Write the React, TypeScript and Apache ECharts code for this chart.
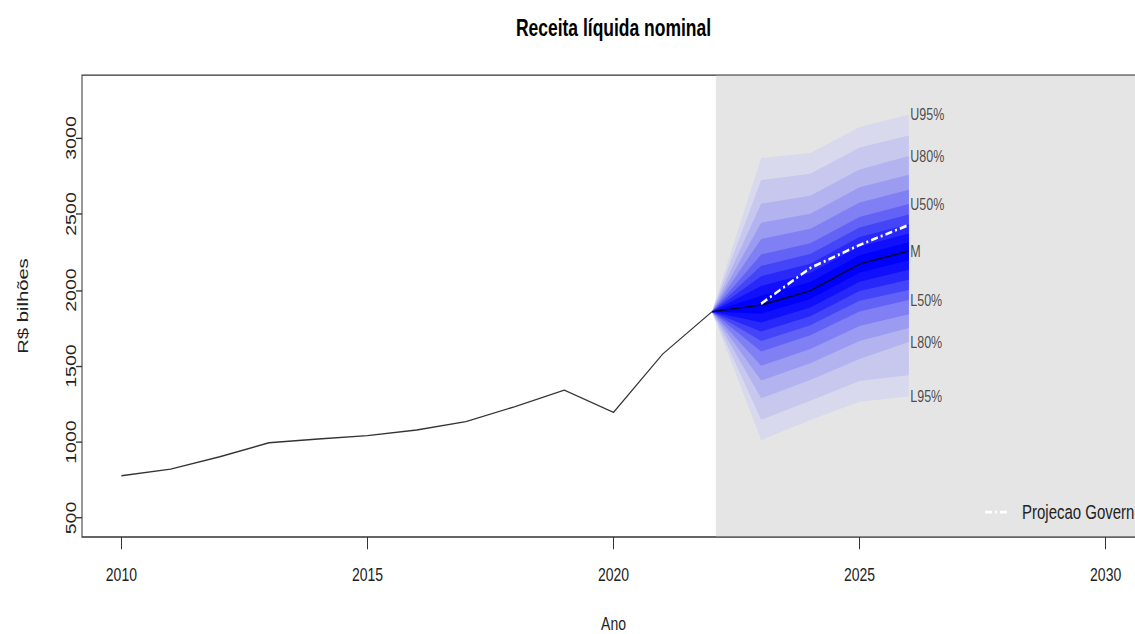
import { useEffect, useRef } from "react";
import * as echarts from "echarts";

// ---- data ----
const histYears = [2010, 2011, 2012, 2013, 2014, 2015, 2016, 2017, 2018, 2019, 2020, 2021, 2022];
const histValues = [778, 822, 903, 995, 1020, 1042, 1079, 1134, 1233, 1342, 1195, 1579, 1857];

const fanYears = [2022, 2023, 2024, 2025, 2026];
const q975 = [1857, 2868, 2901, 3072, 3155];
const q95 = [1857, 2723, 2765, 2937, 3017];
const q90 = [1857, 2568, 2620, 2793, 2882];
const q85 = [1857, 2443, 2502, 2676, 2758];
const q80 = [1857, 2336, 2403, 2576, 2659];
const q75 = [1857, 2234, 2307, 2481, 2566];
const q70 = [1857, 2159, 2237, 2412, 2496];
const q65 = [1857, 2091, 2173, 2348, 2432];
const q60 = [1857, 2026, 2112, 2287, 2372];
const q55 = [1857, 1963, 2053, 2229, 2314];
const q50 = [1857, 1901, 1995, 2171, 2257];
const q45 = [1857, 1844, 1941, 2113, 2195];
const q40 = [1857, 1786, 1885, 2054, 2133];
const q35 = [1857, 1727, 1828, 1993, 2068];
const q30 = [1857, 1664, 1768, 1929, 2000];
const q25 = [1857, 1596, 1703, 1859, 1934];
const q20 = [1857, 1501, 1612, 1763, 1840];
const q15 = [1857, 1404, 1519, 1664, 1750];
const q10 = [1857, 1288, 1408, 1546, 1658];
const q05 = [1857, 1146, 1272, 1401, 1439];
const q025 = [1857, 1013, 1145, 1265, 1300];

const govYears = [2023, 2024, 2025, 2026];
const govValues = [1910, 2145, 2296, 2428];

const xTicks = [2010, 2015, 2020, 2025, 2030];
const yTicks = [500, 1000, 1500, 2000, 2500, 3000];
const fanLabels = ["U95%", "U80%", "U50%", "M", "L50%", "L80%", "L95%"];
const forecastStart = 2022.08;

// ---- layout / style ----
const SCALE = 1.35;
const W = 1160;
const H = 480;
const FONT = '"Liberation Sans", Arial, Helvetica, sans-serif';
const bandColors = [
  "#d9d9ee", "#c8c8ef", "#b3b3f0", "#9b9bf2", "#8080f4",
  "#6262f6", "#4444f8", "#2828fb", "#1010fd", "#0000ff",
];

export default function App() {
  const ref = useRef<HTMLDivElement>(null);

  useEffect(() => {
    const chart = echarts.init(ref.current!, null, { renderer: "svg", width: W, height: H });
    const lowers = [q025, q05, q10, q15, q20, q25, q30, q35, q40, q45];
    const uppers = [q975, q95, q90, q85, q80, q75, q70, q65, q60, q55];
    const labelSource = [q975, q90, q75, q50, q25, q10, q025];
    const lastYear = fanYears[fanYears.length - 1];

    chart.setOption({
      animation: false,
      backgroundColor: "#ffffff",
      textStyle: { fontFamily: FONT },
      grid: {
        left: 82,
        right: 15,
        top: 55.6,
        bottom: 82.2,
        show: true,
        borderColor: "#333",
        borderWidth: 1,
        backgroundColor: "transparent",
        containLabel: false,
        outerBoundsMode: "none",
      },
      xAxis: {
        type: "value",
        min: 2009.2,
        max: 2030.8,
        axisLine: { show: false },
        splitLine: { show: false },
        axisTick: { show: true, customValues: xTicks, length: 9, lineStyle: { color: "#333" } },
        axisLabel: {
          customValues: xTicks,
          margin: 21,
          fontSize: 14,
          color: "#222",
          fontFamily: FONT,
          formatter: (v: number) => String(Math.round(v)),
        },
        name: "Ano",
        nameLocation: "middle",
        nameGap: 57,
        nameTextStyle: { fontSize: 14, color: "#222", fontFamily: FONT },
      },
      yAxis: {
        type: "value",
        min: 375,
        max: 3414,
        axisLine: { show: false },
        splitLine: { show: false },
        axisTick: { show: true, customValues: yTicks, length: 6, lineStyle: { color: "#333" } },
        axisLabel: {
          customValues: yTicks,
          rotate: 90,
          margin: 4,
          fontSize: 14.5,
          color: "#222",
          fontFamily: FONT,
          formatter: (v: number) => String(Math.round(v)),
        },
        name: "R$ bilhões",
        nameLocation: "middle",
        nameGap: 52,
        nameTextStyle: { fontSize: 15, color: "#222", fontFamily: FONT },
      },
      graphic: [
        {
          type: "text",
          x: 613.5,
          y: 20.7,
          style: {
            text: "Receita líquida nominal",
            fontSize: 17.5,
            fontWeight: "bold",
            fontFamily: FONT,
            fill: "#000",
            align: "center",
            verticalAlign: "middle",
          },
        },
        {
          type: "line",
          shape: { x1: 985, y1: 379.3, x2: 1008, y2: 379.3 },
          style: { stroke: "#ffffff", lineWidth: 2, lineDash: [7, 3, 2, 3] },
          z: 20,
        },
        {
          type: "text",
          x: 1022,
          y: 379.3,
          style: {
            text: "Projecao Governo",
            fontSize: 15,
            fontFamily: FONT,
            fill: "#222",
            verticalAlign: "middle",
          },
          z: 20,
        },
      ],
      series: [
        {
          type: "custom",
          z: 1,
          silent: true,
          data: [[forecastStart, 2000]],
          renderItem: (params: any, api: any) => {
            const cs = params.coordSys;
            const p = api.coord([api.value(0), api.value(1)]);
            return {
              type: "rect",
              shape: {
                x: p[0],
                y: cs.y + 0.5,
                width: cs.x + cs.width - p[0] - 0.5,
                height: cs.height - 1,
              },
              style: { fill: "#e5e5e5" },
            };
          },
        },
        {
          type: "custom",
          z: 2,
          silent: true,
          data: bandColors.map((_, k) => [2024, 2000, k]),
          renderItem: (_params: any, api: any) => {
            const k = api.value(2);
            const up = fanYears.map((yr, i) => api.coord([yr, uppers[k][i]]));
            const lo = fanYears.map((yr, i) => api.coord([yr, lowers[k][i]])).reverse();
            return {
              type: "polygon",
              shape: { points: up.concat(lo) },
              style: { fill: bandColors[k] },
            };
          },
        },
        {
          type: "line",
          z: 3,
          data: histYears.map((y, i) => [y, histValues[i]]),
          symbol: "none",
          lineStyle: { color: "#333", width: 1 },
        },
        {
          type: "line",
          z: 4,
          data: fanYears.map((y, i) => [y, q50[i]]),
          symbol: "none",
          lineStyle: { color: "#00003a", width: 1.2 },
        },
        {
          type: "line",
          z: 5,
          data: govYears.map((y, i) => [y, govValues[i]]),
          symbol: "none",
          lineStyle: { color: "#ffffff", width: 2, type: [7, 3, 2, 3] },
        },
        {
          type: "scatter",
          z: 6,
          symbolSize: 1,
          itemStyle: { color: "transparent" },
          data: fanLabels.map((name, i) => ({
            name,
            value: [lastYear, labelSource[i][labelSource[i].length - 1]],
          })),
          label: {
            show: true,
            position: "right",
            distance: 1,
            formatter: (p: any) => p.name,
            fontSize: 12.5,
            color: "#222",
            fontFamily: FONT,
          },
        },
      ],
    });

    return () => chart.dispose();
  }, []);

  return (
    <div
      style={{
        position: "fixed",
        left: 0,
        top: 0,
        width: 1135,
        height: 634,
        overflow: "hidden",
        background: "#fff",
      }}
    >
      <div
        ref={ref}
        style={{ width: W, height: H, transform: `scale(1, ${SCALE})`, transformOrigin: "0 0" }}
      />
    </div>
  );
}
